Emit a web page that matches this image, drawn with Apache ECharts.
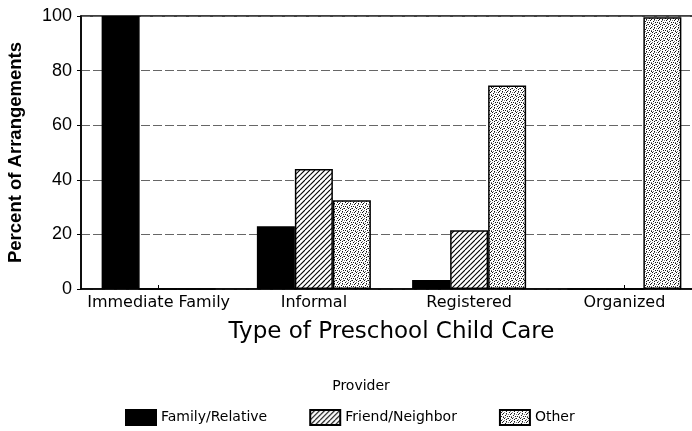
<!DOCTYPE html>
<html>
<head>
<meta charset="utf-8">
<script src="https://cdn.jsdelivr.net/npm/echarts@6/dist/echarts.min.js"></script>
<style>html,body{margin:0;padding:0;background:#fff;}#chart{width:692px;height:431px;}</style>
</head>
<body>
<div id="chart"></div>
<script>
const categories = ['Immediate Family', 'Informal', 'Registered', 'Organized'];
const familyRelative = [100, 23, 3.3, 0];
const friendNeighbor = [0, 44, 21.5, 0];
const other = [0, 32.5, 74.5, 99.5];
const yTicks = [0, 20, 40, 60, 80, 100];

function hatchPattern() {
  const s = 10, c = document.createElement('canvas');
  c.width = s; c.height = s;
  const g = c.getContext('2d');
  g.fillStyle = '#fff'; g.fillRect(0, 0, s, s);
  g.strokeStyle = '#000'; g.lineWidth = 1.1;
  for (let x = -s; x <= s; x += 5) {
    g.beginPath(); g.moveTo(x, s); g.lineTo(x + s, 0); g.stroke();
  }
  return c;
}
function stipplePattern() {
  const rows = [
    '#...#..+',
    '..+...#.',
    '.#..+...',
    '...#..#.',
    '+.#...+.',
    '.....#..',
    '.#.+...#',
    '...#.+..'
  ];
  const s = 8, c = document.createElement('canvas');
  c.width = s; c.height = s;
  const g = c.getContext('2d');
  g.fillStyle = '#fff'; g.fillRect(0, 0, s, s);
  rows.forEach((r, y) => r.split('').forEach((ch, x) => {
    if (ch === '#') { g.fillStyle = '#111'; g.fillRect(x, y, 1, 1); }
    else if (ch === '+') { g.fillStyle = '#777'; g.fillRect(x, y, 1, 1); }
  }));
  return c;
}

const chart = echarts.init(document.getElementById('chart'), null, {renderer: 'canvas'});
const border = {borderColor: '#000', borderWidth: 1.5};
chart.setOption({
  animation: false,
  backgroundColor: '#fff',
  title: {
    text: 'Provider', left: 356, top: 374, textAlign: 'center',
    textStyle: {fontFamily: 'DejaVu Sans', fontSize: 14, fontWeight: 'normal', color: '#000'}
  },
  legend: {
    left: 120, top: 404, itemWidth: 30, itemHeight: 15, itemGap: 42, icon: 'rect',
    textStyle: {fontFamily: 'DejaVu Sans', fontSize: 14, color: '#000'},
    data: ['Family/Relative', 'Friend/Neighbor', 'Other']
  },
  grid: {left: 81, top: 16, width: 621, height: 273, show: true, borderColor: '#000', borderWidth: 1.5,
    backgroundColor: 'transparent', containLabel: false, outerBoundsMode: 'none'},
  xAxis: {
    type: 'category', data: categories,
    name: 'Type of Preschool Child Care', nameLocation: 'middle', nameGap: 32,
    nameTextStyle: {fontFamily: 'DejaVu Sans', fontSize: 23, color: '#000'},
    axisLine: {lineStyle: {color: '#000', width: 1.5}},
    axisTick: {show: true, alignWithLabel: true, inside: true, length: 4, lineStyle: {color: '#000'}},
    axisLabel: {fontFamily: 'DejaVu Sans', fontSize: 16, color: '#000', margin: 6, interval: 0, hideOverlap: false},
    splitLine: {show: false}
  },
  yAxis: {
    type: 'value', min: 0, max: 100, interval: 20,
    name: 'Percent of Arrangements', nameLocation: 'middle', nameGap: 56,
    nameTextStyle: {fontFamily: 'Liberation Sans', fontSize: 18.5, fontWeight: 'bold', color: '#000'},
    axisLine: {show: true, lineStyle: {color: '#000', width: 1.5}},
    axisTick: {show: true, length: 4, lineStyle: {color: '#000'}},
    axisLabel: {fontFamily: 'Liberation Sans', fontSize: 18, color: '#000', margin: 9,
      formatter: v => yTicks.includes(v) ? String(v) : ''},
    splitLine: {show: true, lineStyle: {color: '#666', width: 1, type: [9, 3]}}
  },
  series: [
    {name: 'Family/Relative', type: 'bar', data: familyRelative, barWidth: 38, barGap: '0%',
      itemStyle: Object.assign({color: '#000'}, border)},
    {name: 'Friend/Neighbor', type: 'bar', data: friendNeighbor, barWidth: 38, barGap: '0%',
      itemStyle: Object.assign({color: {image: hatchPattern(), repeat: 'repeat'}}, border)},
    {name: 'Other', type: 'bar', data: other, barWidth: 38, barGap: '0%',
      itemStyle: Object.assign({color: {image: stipplePattern(), repeat: 'repeat'}}, border)}
  ]
});
</script>
</body>
</html>
